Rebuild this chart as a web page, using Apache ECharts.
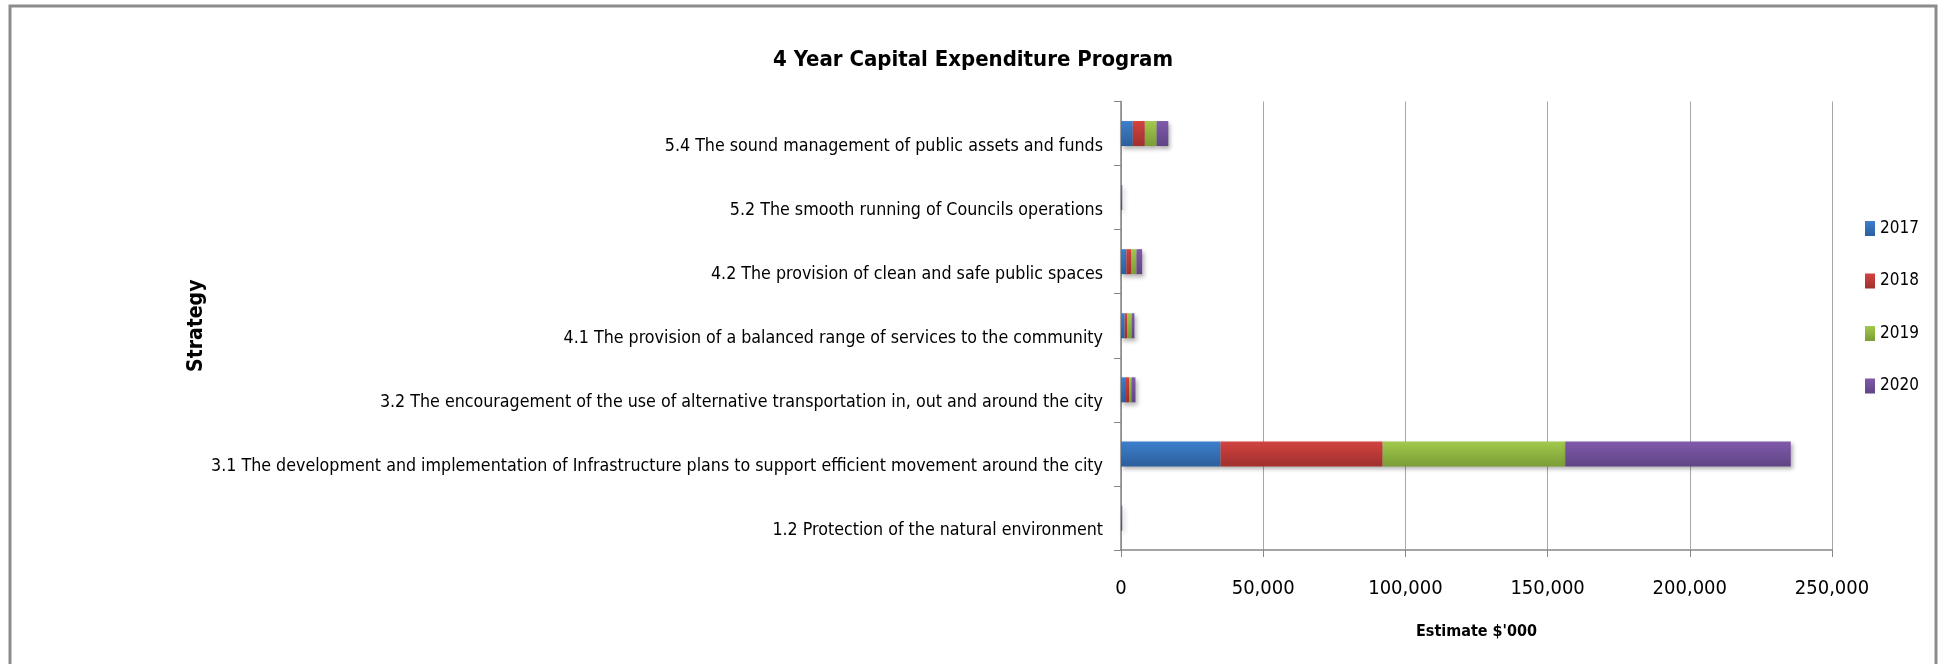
<!DOCTYPE html>
<html>
<head>
<meta charset="utf-8">
<script src="https://cdn.jsdelivr.net/npm/echarts@6/dist/echarts.min.js"></script>
<style>
  html, body { margin: 0; padding: 0; background: #fff; }
  #main { width: 1946px; height: 664px; }
</style>
</head>
<body>
<div id="main"></div>
<script>
  // strategies, bottom to top as echarts draws a category y axis
  var strategies = [
    '1.2 Protection of the natural environment',
    '3.1 The development and implementation of Infrastructure plans to support efficient movement around the city',
    '3.2 The encouragement of the use of alternative transportation in, out and around the city',
    '4.1 The provision of a balanced range of services to the community',
    '4.2 The provision of clean and safe public spaces',
    '5.2 The smooth running of Councils operations',
    '5.4 The sound management of public assets and funds'
  ]
  var years = ['2017', '2018', '2019', '2020']
  var est2017 = [0, 35000, 1420, 1300, 1890, 0, 4130]
  var est2018 = [0, 57000, 1420, 830, 1770, 0, 4250]
  var est2019 = [0, 64200, 830, 1650, 1770, 0, 4130]
  var est2020 = [450, 79300, 1420, 940, 2000, 450, 4130]
  var xTicks = [0, 50000, 100000, 150000, 200000, 250000]

  var font = "'Liberation Sans Narrow', 'DejaVu Sans Condensed', sans-serif"
  var colors = [
    ['#3d7fcc', '#2c5f9c'],
    ['#d24340', '#a0302e'],
    ['#a2c94c', '#7b9d36'],
    ['#8059ab', '#5f4584']
  ]
  var values = [est2017, est2018, est2019, est2020]

  var series = years.map(function (y, i) {
    return {
      name: y,
      type: 'bar',
      stack: 'total',
      barWidth: 25,
      data: values[i],
      itemStyle: {
        color: new echarts.graphic.LinearGradient(0, 0, 0, 1, [
          { offset: 0, color: colors[i][0] },
          { offset: 1, color: colors[i][1] }
        ]),
        shadowColor: 'rgba(0,0,0,0.3)',
        shadowBlur: 4,
        shadowOffsetX: 2,
        shadowOffsetY: 3
      }
    }
  })

  var myChart = echarts.init(document.getElementById('main'))
  myChart.setOption({
    animation: false,
    color: colors.map(function (c) { return c[0] }),
    title: {
      text: '4 Year Capital Expenditure Program',
      left: 'center',
      top: 44,
      textStyle: { fontFamily: font, fontSize: 22, fontWeight: 'bold', color: '#000' }
    },
    legend: {
      orient: 'vertical',
      left: 1860,
      top: 215,
      itemWidth: 10,
      itemHeight: 15,
      itemGap: 35.5,
      icon: 'rect',
      data: years,
      textStyle: { fontFamily: font, fontSize: 17, color: '#000', lineHeight: 15, padding: [0, 0, 0, 0] }
    },
    graphic: [{
      type: 'rect',
      shape: { x: 10, y: 6, width: 1926, height: 700 },
      style: { fill: 'none', stroke: '#8c8c8c', lineWidth: 3 },
      silent: true
    }],
    grid: {
      left: 1121,
      right: 114,
      top: 101.5,
      bottom: 114,
      containLabel: false
    },
    xAxis: {
      type: 'value',
      min: 0,
      max: 250000,
      interval: 50000,
      name: "Estimate $'000",
      nameLocation: 'middle',
      nameGap: 74,
      nameTextStyle: { fontFamily: font, fontSize: 16, fontWeight: 'bold', color: '#000' },
      axisLine: { show: true, lineStyle: { color: '#868686', width: 1.5 } },
      axisTick: { show: true, length: 7, lineStyle: { color: '#868686' } },
      splitLine: { show: true, lineStyle: { color: '#a6a6a6', width: 1 } },
      axisLabel: {
        margin: 29,
        fontFamily: font,
        fontSize: 20,
        color: '#000',
        formatter: function (v) { return xTicks.indexOf(v) >= 0 ? v.toLocaleString('en-US') : '' }
      }
    },
    yAxis: {
      type: 'category',
      data: strategies,
      name: 'Strategy',
      nameLocation: 'middle',
      nameGap: 805,
      nameTextStyle: { fontFamily: font, fontSize: 21, fontWeight: 'bold', color: '#000' },
      axisLine: { show: true, lineStyle: { color: '#868686', width: 1.5 } },
      axisTick: { show: true, length: 7, lineStyle: { color: '#868686' } },
      axisLabel: { margin: 18, fontFamily: font, fontSize: 17.7, color: '#000', verticalAlign: 'top', lineHeight: 25 }
    },
    series: series
  })
</script>
</body>
</html>
